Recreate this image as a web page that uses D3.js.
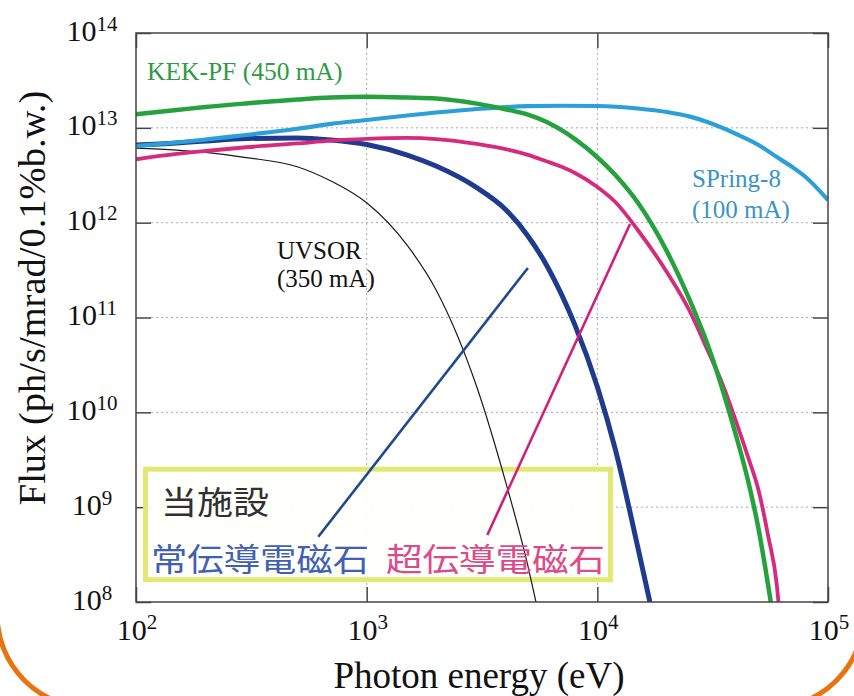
<!DOCTYPE html>
<html><head><meta charset="utf-8">
<script src="https://cdn.jsdelivr.net/npm/d3@7"></script>
<style>
html,body{margin:0;padding:0;background:#fff;}
svg{display:block;}
</style></head>
<body>
<svg id="chart" width="854" height="696"></svg>
<script>
// ---- Data (photon energy in eV, flux in ph/s/mrad/0.1%b.w.) ----
const energyKEK = [100,150,200,300,500,700,1000,1500,2000,3000,4000,5000,6000,7000,8000,10000,12000,15000,20000,25000,30000,35000,40000,45000,50000,55000,56500];
const fluxKEK   = [1.39e13,1.54e13,1.66e13,1.81e13,1.99e13,2.09e13,2.13e13,2.09e13,2.04e13,1.80e13,1.57e13,1.38e13,1.16e13,9.44e12,7.59e12,4.90e12,3.16e12,1.62e12,5.01e11,1.58e11,5.25e10,1.70e10,5.62e9,1.91e9,5.89e8,1.51e8,1.0e8];

const energySP8 = [100,150,200,300,500,700,1000,1500,2000,3000,5000,7000,10000,15000,20000,25000,30000,40000,50000,60000,70000,80000,100000];
const fluxSP8   = [6.43e12,7.0e12,7.50e12,8.41e12,9.77e12,1.10e13,1.21e13,1.35e13,1.45e13,1.58e13,1.69e13,1.71e13,1.70e13,1.60e13,1.47e13,1.32e13,1.15e13,8.61e12,6.59e12,4.92e12,3.86e12,3.03e12,1.73e12];

const energySC = [100,150,200,300,500,700,1000,1500,2000,3000,4000,5000,6000,7000,8000,10000,12000,15000,20000,25000,30000,35000,40000,45000,50000,55000,60000,61000];
const fluxSC   = [4.66e12,5.30e12,5.70e12,6.24e12,6.84e12,7.33e12,7.66e12,7.82e12,7.62e12,6.76e12,5.96e12,5.19e12,4.45e12,3.88e12,3.34e12,2.38e12,1.64e12,8.32e11,3.02e11,1.20e11,4.57e10,1.95e10,7.94e9,3.39e9,1.51e9,5.01e8,1.51e8,1.0e8];

const energyNC = [100,150,200,300,500,700,1000,1500,2000,3000,4000,5000,6000,7000,8000,10000,12000,15000,16900];
const fluxNC   = [6.59e12,6.92e12,7.26e12,7.71e12,7.82e12,7.45e12,6.67e12,5.16e12,3.95e12,2.34e12,1.38e12,7.24e11,3.63e11,1.74e11,8.32e10,1.86e10,3.98e9,3.72e8,1.0e8];

const energyUV = [100,150,200,300,500,700,1000,1500,2000,3000,4000,5000,5420];
const fluxUV   = [6.12e12,5.83e12,5.50e12,4.86e12,3.89e12,2.75e12,1.62e12,5.75e11,1.95e11,1.86e10,1.86e9,2.40e8,1.0e8];

const xTickValues = [1e2,1e3,1e4,1e5];
const xTickExps   = ["2","3","4","5"];
const yTickValues = [1e8,1e9,1e10,1e11,1e12,1e13,1e14];
const yTickExps   = ["8","9","10","11","12","13","14"];

// pointer lines (data coordinates): [from, to]
const pointerNC = [[617,4.88e8],[5000,3.33e11]];
const pointerSC = [[3335,5.08e8],[13860,9.68e11]];

// ---- Layout ----
const L = 136, R = 828, T = 33, B = 602;
const svg = d3.select("#chart");
const x = d3.scaleLog().domain([1e2,1e5]).range([L,R]);
const y = d3.scaleLog().domain([1e8,1e14]).range([B,T]);
const serif = "'Liberation Serif','Times New Roman',serif";
const cjk = "'Noto Sans CJK JP','Noto Sans CJK SC',sans-serif";

svg.append("rect").attr("width",854).attr("height",696).attr("fill","#fff");

// decorative orange border
svg.append("rect").attr("x",-3).attr("y",-300).attr("width",867).attr("height",1008)
  .attr("rx",94).attr("ry",94).attr("fill","none").attr("stroke","#e8730f").attr("stroke-width",5);

// grid
const grid = svg.append("g").attr("stroke","#a8a8a8").attr("stroke-width",1).attr("stroke-dasharray","2,3");
yTickValues.slice(1,-1).forEach(v=>{
  grid.append("line").attr("x1",L+15).attr("x2",R-15).attr("y1",y(v)).attr("y2",y(v));
});
xTickValues.slice(1,-1).forEach(v=>{
  grid.append("line").attr("y1",T+15).attr("y2",B-15).attr("x1",x(v)).attr("x2",x(v));
});

// axes ticks (inward)
const axCol = "#444";
const gL = svg.append("g").attr("transform",`translate(${L},0)`).call(d3.axisRight(y).tickValues(yTickValues).tickSize(15).tickFormat(""));
const gR = svg.append("g").attr("transform",`translate(${R},0)`).call(d3.axisLeft(y).tickValues(yTickValues).tickSize(15).tickFormat(""));
const gT = svg.append("g").attr("transform",`translate(0,${T})`).call(d3.axisBottom(x).tickValues(xTickValues).tickSize(15).tickFormat(""));
const gB = svg.append("g").attr("transform",`translate(0,${B})`).call(d3.axisTop(x).tickValues(xTickValues).tickSize(15).tickFormat(""));
[gL,gR,gT,gB].forEach(g=>{
  g.select(".domain").remove();
  g.selectAll("line").attr("stroke",axCol).attr("stroke-width",1.5);
});

// legend box (drawn under the curves)
svg.append("rect").attr("x",145.5).attr("y",469.2).attr("width",465).attr("height",110.5)
  .attr("fill","#fffffb").attr("fill-opacity",0.93).attr("stroke","#e3e874").attr("stroke-width",5);

// clip
svg.append("clipPath").attr("id","clip").append("rect").attr("x",L).attr("y",T).attr("width",R-L).attr("height",B-T);
const plot = svg.append("g").attr("clip-path","url(#clip)");

const line = d3.line().x(d=>x(d[0])).y(d=>y(d[1])).curve(d3.curveMonotoneX);
const zip = (a,b)=>a.map((v,i)=>[v,b[i]]);

const series = [
  {e:energyUV, f:fluxUV, color:"#1a1a1a", w:1.2},
  {e:energyNC, f:fluxNC, color:"#1f3b8e", w:5},
  {e:energySC, f:fluxSC, color:"#d62a7c", w:3.8},
  {e:energySP8,f:fluxSP8,color:"#2ba0d8", w:4.2},
  {e:energyKEK,f:fluxKEK,color:"#25a23e", w:4.5}
];
series.forEach(s=>{
  plot.append("path").attr("d",line(zip(s.e,s.f))).attr("fill","none")
    .attr("stroke",s.color).attr("stroke-width",s.w).attr("stroke-linejoin","round");
});

// pointer lines
[[pointerNC,"#1f4a8c"],[pointerSC,"#cf1f78"]].forEach(([p,c])=>{
  svg.append("line").attr("x1",x(p[0][0])).attr("y1",y(p[0][1])).attr("x2",x(p[1][0])).attr("y2",y(p[1][1]))
    .attr("stroke",c).attr("stroke-width",2.6);
});

// frame
svg.append("rect").attr("x",L).attr("y",T).attr("width",R-L).attr("height",B-T)
  .attr("fill","none").attr("stroke",axCol).attr("stroke-width",1.5);

// tick labels
yTickValues.forEach((v,i)=>{
  const t = svg.append("text").attr("x",92).attr("y",y(v)+7.5).attr("text-anchor","middle")
    .attr("font-family",serif).attr("font-size",30).attr("fill","#111");
  t.append("tspan").text("10");
  t.append("tspan").attr("dy",-10).attr("font-size",21).text(yTickExps[i]);
});
xTickValues.forEach((v,i)=>{
  const t = svg.append("text").attr("x",x(v)+1).attr("y",640).attr("text-anchor","middle")
    .attr("font-family",serif).attr("font-size",30).attr("fill","#111");
  t.append("tspan").text("10");
  t.append("tspan").attr("dy",-11).attr("font-size",21).text(xTickExps[i]);
});

// axis titles
svg.append("text").attr("x",479).attr("y",688).attr("text-anchor","middle")
  .attr("font-family",serif).attr("font-size",37).attr("fill","#111").text("Photon energy (eV)");
svg.append("text").attr("transform","translate(45,298) rotate(-90)").attr("text-anchor","middle")
  .attr("font-family",serif).attr("font-size",38.5).attr("fill","#111").text("Flux (ph/s/mrad/0.1%b.w.)");

// series labels
svg.append("text").attr("x",147).attr("y",80).attr("font-family",serif).attr("font-size",25.5)
  .attr("fill","#2f9a45").text("KEK-PF (450 mA)");
const uv = svg.append("text").attr("font-family",serif).attr("font-size",25).attr("fill","#111");
uv.append("tspan").attr("x",277).attr("y",259).text("UVSOR");
uv.append("tspan").attr("x",277).attr("y",287).text("(350 mA)");
const sp = svg.append("text").attr("font-family",serif).attr("font-size",25).attr("fill","#3a93c6");
sp.append("tspan").attr("x",692).attr("y",187).text("SPring-8");
sp.append("tspan").attr("x",692).attr("y",218).text("(100 mA)");

// legend texts
svg.append("text").attr("x",161).attr("y",514).attr("font-family",cjk).attr("font-size",32)
  .attr("fill","#303030").attr("textLength",108).attr("lengthAdjust","spacingAndGlyphs").text("当施設");
svg.append("text").attr("x",151).attr("y",571).attr("font-family",cjk).attr("font-size",32)
  .attr("fill","#4160b3").attr("textLength",218).attr("lengthAdjust","spacingAndGlyphs").text("常伝導電磁石");
svg.append("text").attr("x",386).attr("y",571).attr("font-family",cjk).attr("font-size",32)
  .attr("fill","#dc4a8c").attr("textLength",219).attr("lengthAdjust","spacingAndGlyphs").text("超伝導電磁石");
</script>
</body></html>
